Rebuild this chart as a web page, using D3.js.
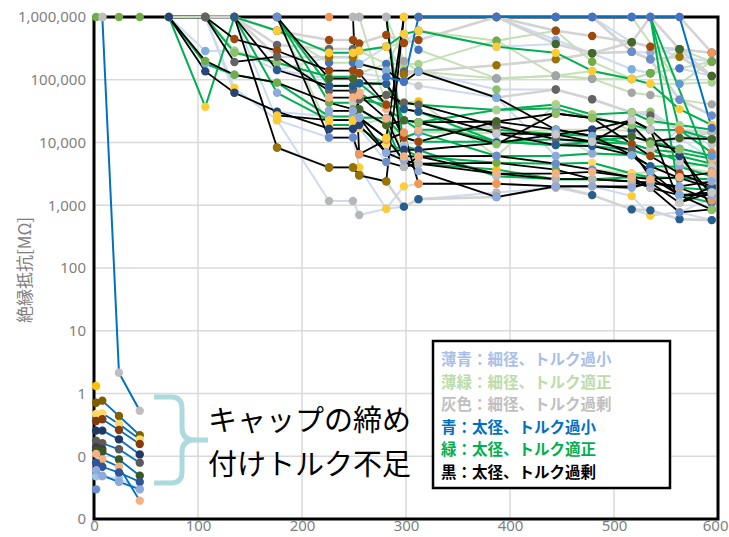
<!DOCTYPE html>
<html>
<head>
<meta charset="utf-8">
<script src="https://cdn.jsdelivr.net/npm/d3@7"></script>
<style>
  html, body { margin: 0; padding: 0; background: #fff; }
  svg { display: block; }
</style>
</head>
<body>
<svg id="chart" width="729" height="537"></svg>
<script>
// ---------------- data ----------------
const xTicks = [0, 100, 200, 300, 400, 500, 600];
const yTicks = [0.01, 0.1, 1, 10, 100, 1000, 10000, 100000, 1000000];
const yTickLabels = ["0", "0", "1", "10", "100", "1,000", "10,000", "100,000", "1,000,000"];
const yTitle = "絶縁抵抗[MΩ]";
const noteLines = ["キャップの締め", "付けトルク不足"];
const legendLabels = [
  "薄青：細径、トルク過小",
  "薄緑：細径、トルク適正",
  "灰色：細径、トルク過剰",
  "青：太径、トルク過小",
  "緑：太径、トルク適正",
  "黒：太径、トルク過剰"
];

// 薄青 (thin, under-torqued)
const lightBlueRuns = [
  [[135,1e6],[176,2.27e4],[226,1.17e3],[249,1.17e3],[255,7.0e2],[281,8.8e2],[298,9.5e2],[312,1.25e3],[387,1.6e3],[444,1.9e3],[479,1.45e3],[517,8.6e2],[535,6.9e2],[563,7.7e2],[594,5.8e2]],
  [[107,1e6],[135,7.4e4],[176,2.27e4],[226,1.2e4],[249,1.2e4],[255,4.0e3],[281,8.8e2],[298,2.0e3],[312,2.2e3],[387,2.2e3],[444,2.0e3],[479,2.0e3],[517,1.4e3],[535,6.9e2],[563,7.7e2],[594,1.3e3]],
  [[72,1e6],[107,2.87e5],[135,2.9e5],[176,1.43e5],[226,2.28e5],[249,2.28e5],[255,1.79e5],[281,3.36e5],[298,3.85e5],[312,6.05e5],[387,3.36e5],[444,3.72e5],[479,2.64e5],[517,1.47e5],[535,1.27e5],[563,1.52e5],[594,1.15e5]],
  [[176,1e6],[226,8.0e4],[249,8.0e4],[255,6.2e4],[281,1.1e5],[298,1.35e5],[312,1.35e5],[387,7.0e4],[444,7.0e4],[479,4.9e4],[517,3.0e4],[535,3.1e4],[563,1.58e4],[594,1.13e4]],
  [[387,1e6],[444,4.3e5],[479,2.64e5],[517,2.8e5],[535,2.7e5],[563,3.06e5],[594,2.7e5]],
  [[479,1e6],[517,3.95e5],[535,3.36e5],[563,2.33e5],[594,1.94e5]],
  [[135,1e6],[176,1.43e5],[226,1.04e5],[249,1.04e5],[255,1.27e5],[281,1.1e5],[298,9.3e4],[312,8.0e4],[387,5.2e4],[444,6.1e3],[479,6.7e3],[517,6.3e3],[535,7.7e3],[563,1.58e4],[594,9.1e3]],
  [[107,1e6],[135,6.2e4],[176,3.1e4],[226,2.6e4],[249,2.6e4],[255,1.7e4],[281,4.9e3],[298,9.3e3],[312,1.03e4],[387,9.8e3],[444,1.35e4],[479,6.7e3],[517,6.3e3],[535,7.7e3],[563,1.18e4],[594,5.5e3]],
  [[2,0.048],[8,0.048],[24,0.0445],[44,0.03]]
];

// 薄緑 (thin, proper torque)
const lightGreenRuns = [
  [[72,1e6],[107,1e6],[135,2.9e5],[176,1.87e5],[226,1.12e5],[249,1.12e5],[255,2.9e5],[281,1.79e5],[298,1.8e5],[312,1.79e5],[387,4.2e5],[444,1.16e5],[479,1.38e5],[517,1.03e5],[535,8.6e4],[563,8.6e4],[594,9.0e4]],
  [[135,1e6],[176,6.05e5],[226,1.87e5],[249,1.87e5],[255,1.27e5],[281,1.79e5],[298,5.36e5],[312,3.0e5],[387,1.05e5],[444,1.16e5],[479,1.04e5],[517,1.03e5],[535,1.27e5],[563,1.52e5],[594,1.94e5]],
  [[255,1e6],[281,4.0e4],[298,5.2e3],[312,6.0e3],[387,6.1e3],[444,4.6e3],[479,3.7e3],[517,3.2e3],[535,3.4e3],[563,4.1e3],[594,4.6e3]],
  [[281,1e6],[298,2.0e5],[312,1.35e5],[387,1.05e5],[444,1.16e5],[479,1.04e5],[517,6.2e4],[535,5.7e4],[563,4.8e4],[594,4.05e4]],
  [[226,3.2e4],[249,3.2e4],[255,4.9e4],[281,5.7e4],[298,4.3e4],[312,4.5e4],[387,6.1e3],[444,4.05e4],[479,2.8e4],[517,1.54e4],[535,1.6e4],[563,4.1e3],[594,3.3e3]],
  [[517,1e6],[563,8.6e4],[594,2.0e5]],
  [[312,6.05e5],[387,4.2e5],[444,6.05e5],[479,1.94e5],[517,1.03e5],[535,1.27e5],[563,3.06e5],[594,1.94e5]],
  [[176,1e6],[226,1.66e4],[249,1.66e4],[255,1.9e4],[281,2.45e4],[298,1.2e4],[312,1.45e4],[387,1.4e4],[444,1.6e4],[479,1.6e4],[517,1.54e4],[535,1.03e4],[563,1.18e4],[594,1.13e4]]
];

// 灰色 (thin, over-torqued)
const grayRuns = [
  [[107,1e6],[135,1e6],[176,6.05e5],[226,4.3e5],[249,4.3e5],[255,3.8e5],[281,5.17e5],[298,3.85e5],[312,4.3e5],[387,1e6],[444,6.05e5],[479,4.97e5],[517,3.95e5],[535,3.36e5],[563,3.06e5],[594,2.7e5]],
  [[107,1e6],[135,1e6],[176,3.58e5],[226,3.09e5],[249,3.09e5],[255,2.9e5],[281,3.36e5],[298,1.35e5],[312,1.35e5],[387,5.2e4],[444,7.0e4],[479,4.9e4],[517,3.0e4],[535,2.7e4],[563,1.58e4],[594,1.45e4]],
  [[135,1e6],[176,2.33e5],[226,2.28e5],[249,2.28e5],[255,1.79e5],[281,1.4e5],[298,1.2e5],[312,1.35e5],[387,1.7e5],[444,2.11e5],[479,2.64e5],[517,2.8e5],[535,2.11e5],[563,2.33e5],[594,1.15e5]],
  [[176,8.3e3],[226,4.0e3],[249,4.0e3],[255,3.0e3],[281,2.4e3],[298,9.5e2],[312,1.25e3],[387,1.35e3],[444,2.0e3],[479,1.45e3],[517,8.6e2],[535,8.3e2],[563,6.0e2],[594,5.8e2]],
  [[387,1e6],[444,3.72e5],[479,2.64e5],[517,3.95e5],[535,1e6],[563,3.06e5],[594,1.15e5]],
  [[479,1e6],[517,2.8e5],[535,2.11e5],[563,4.8e4],[594,2.7e4]],
  [[563,1e6],[594,2.7e5]],
  [[298,1.2e4],[312,1.45e4],[387,1.83e4],[444,1.13e4],[479,1.03e4],[517,1.25e4],[535,1.03e4],[563,1.18e4],[594,1.45e4]]
];

// 緑 (thick, proper torque)
const greenRuns = [
  [[72,1e6],[107,3.7e4],[135,1e6],[176,6.05e5],[226,2.7e5],[249,2.7e5],[255,2.9e5],[281,3.36e5],[298,5.36e5],[312,6.05e5],[387,3.36e5],[444,2.7e5],[479,1.38e5],[517,1.03e5],[535,8.6e4],[563,3.4e4],[594,1.9e4]],
  [[72,1e6],[107,1.8e5],[135,1.2e5],[176,9.0e4],[226,2.6e4],[249,2.6e4],[255,3.4e4],[281,1.9e4],[298,2.27e4],[312,2.1e4],[387,3.3e4],[444,3.5e4],[479,2.45e4],[517,1.9e4],[535,1.6e4],[563,1.58e4],[594,1.13e4]],
  [[107,1e6],[135,2.7e5],[176,1.87e5],[226,1.12e5],[249,1.12e5],[255,8.8e4],[281,4.0e4],[298,3.4e4],[312,3.1e4],[387,1.03e4],[444,9.1e3],[479,8.8e3],[517,7.6e3],[535,6.1e3],[563,6.1e3],[594,4.6e3]],
  [[135,1e6],[176,6.2e4],[226,2.28e4],[249,2.28e4],[255,2.5e4],[281,2.45e4],[298,1.2e4],[312,1.45e4],[387,6.1e3],[444,6.1e3],[479,6.7e3],[517,6.3e3],[535,4.2e3],[563,4.1e3],[594,2.9e3]],
  [[176,1e6],[226,8.0e4],[249,8.0e4],[255,6.2e4],[281,3.4e4],[298,2.27e4],[312,1.6e4],[387,1.6e4],[444,1.35e4],[479,1.27e4],[517,9.5e3],[535,7.7e3],[563,6.9e3],[594,5.5e3]],
  [[176,1e6],[226,4.3e4],[249,4.3e4],[255,4.9e4],[281,4.0e4],[298,1.2e4],[312,1.03e4],[387,1.03e4],[444,1.13e4],[479,1.03e4],[517,9.5e3],[535,7.7e3],[563,5.0e3],[594,4.1e3]],
  [[226,1.9e4],[249,1.9e4],[255,1.7e4],[281,9.3e3],[298,7.7e3],[312,6.0e3],[387,4.75e3],[444,4.6e3],[479,4.75e3],[517,3.2e3],[535,2.8e3],[563,2.7e3],[594,2.6e3]],
  [[255,1e6],[281,1e6],[298,8.8e3],[312,7.6e3],[387,2.9e3],[444,2.6e3],[479,2.6e3],[517,2.8e3],[535,2.8e3],[563,2.7e3],[594,2.6e3]],
  [[298,4.3e4],[312,4.0e4],[387,3.3e4],[444,4.05e4],[479,2.8e4],[517,3.0e4],[535,2.2e4],[563,1.9e4],[594,1.6e4]],
  [[444,1e6],[479,1e6],[517,1e6],[535,1e6],[563,1.45e3],[594,1.1e3]],
  [[535,1e6],[563,1.58e4],[594,6.9e3]],
  [[517,1e6],[535,1e6],[594,3.5e3]],
  [[281,1.9e4],[298,4.1e3],[312,4.6e3],[387,3.7e3],[444,2.6e3],[479,2.6e3],[517,2.4e3],[535,2.3e3],[563,1.9e3],[594,1.75e3]],
  [[255,8.8e4],[281,8.6e4],[298,2.27e4],[312,2.1e4],[387,1.03e4],[444,9.1e3],[479,1.03e4],[517,1.25e4],[535,1.03e4],[563,8.0e3],[594,6.1e3]]
];

// 黒 (thick, over-torqued)
const blackRuns = [
  [[2,1e6],[8,1e6],[24,1e6],[44,1e6],[72,1e6],[107,2.0e5],[135,1.2e5],[176,9.0e4],[226,4.3e4],[249,3.4e4],[255,2.5e4],[281,1.18e4],[298,5.2e3],[312,4.6e3],[387,4.75e3],[444,3.7e3],[479,2.6e3],[517,2.4e3],[535,2.3e3],[563,1.1e3],[594,2.0e3]],
  [[72,1e6],[107,1.36e5],[135,6.2e4],[176,3.1e4],[226,1.66e4],[249,1.66e4],[255,1.9e4],[281,6.9e3],[298,7.7e3],[312,7.6e3],[387,9.8e3],[444,1.35e4],[479,1.6e4],[517,2.27e4],[535,1.6e4],[563,6.1e3],[594,1.45e3]],
  [[107,1e6],[135,4.46e5],[176,2.9e5],[226,1.4e5],[249,1.4e5],[255,1.27e5],[281,4.0e4],[298,1.2e4],[312,1.03e4],[387,2.16e4],[444,2.9e4],[479,2.45e4],[517,9.5e3],[535,6.1e3],[563,3.2e3],[594,2.0e3]],
  [[107,1e6],[135,1.92e5],[176,2.33e5],[226,6.7e4],[249,6.7e4],[255,4.9e4],[281,5.7e4],[298,4.3e4],[312,4.0e4],[387,1.83e4],[444,1.13e4],[479,1.03e4],[517,7.6e3],[535,2.8e3],[563,1.45e3],[594,8.5e2]],
  [[135,1e6],[176,8.3e3],[226,4.0e3],[249,4.0e3],[255,3.0e3],[281,2.4e3],[298,1e6],[312,1e6],[387,1e6],[444,1e6]],
  [[135,1e6],[176,1.43e5],[226,8.0e4],[249,8.0e4],[255,8.8e4],[281,8.6e4],[298,3.4e4],[312,3.1e4],[387,1.4e4],[444,9.1e3],[479,8.8e3],[517,6.3e3],[535,4.2e3],[563,2.7e3],[594,1.9e3]],
  [[176,1e6],[226,1.04e5],[249,1.04e5],[255,3.4e4],[281,1.9e4],[298,2.27e4],[312,2.1e4],[387,2.16e4],[444,1.6e4],[479,1.27e4],[517,1.25e4],[535,1.03e4],[563,1.18e4],[594,1.13e4]],
  [[176,1e6],[226,1.2e4],[249,1.2e4],[255,6.5e3],[281,4.9e3],[298,4.1e3],[312,6.0e3],[387,6.1e3],[444,4.6e3],[479,3.7e3],[517,2.8e3],[535,1.9e3],[563,7.7e2],[594,8.6e2]],
  [[226,1e6],[249,1e6],[255,6.5e3],[281,1.1e4],[298,1.44e4],[312,2.2e3],[387,2.2e3],[444,2.0e3],[479,2.0e3],[517,2.0e3],[535,2.3e3],[563,1.9e3],[594,1.2e3]],
  [[249,1e6],[255,1e6],[281,1e6],[298,4.1e3],[312,4.6e3],[387,3.2e3],[444,2.6e3],[479,2.6e3],[517,2.4e3],[535,1.9e3],[563,1.45e3],[594,1.6e3]],
  [[176,2.7e4],[226,2.27e4],[249,2.27e4],[255,2.5e4],[281,1.18e4],[298,1e6]],
  [[255,1.79e5],[281,1.4e5],[298,9.3e4],[312,1.35e5],[387,5.2e4],[444,1.6e4],[479,1.27e4],[517,6.3e3],[535,3.4e3],[563,1.45e3],[594,1.45e3]],
  [[312,2.1e4],[387,9.4e3],[444,2.9e4],[479,2.45e4],[517,1.9e4],[535,9.5e3],[563,7.7e3],[594,8.5e2]],
  [[226,3.2e4],[249,3.2e4],[255,2.5e4],[281,6.9e3],[298,5.2e3],[312,3.5e3],[387,1.35e3],[444,2.0e3],[479,2.0e3],[517,1.9e3],[535,2.3e3],[563,2.0e3],[594,2.4e3]],
  [[226,5.2e4],[249,5.2e4],[255,5.7e4],[281,2.4e4],[298,6.0e3],[312,6.0e3],[387,3.2e3],[444,3.2e3],[479,3.4e3],[517,2.8e3],[535,2.6e3],[563,2.8e3],[594,3.3e3]],
  [[387,1.4e4],[444,1.35e4],[479,1.03e4],[517,2.27e4],[535,1.6e4],[563,1.1e3],[594,1.6e3]]
];

// 青 (thick, under-torqued)
const blueRuns = [
  [[8,1e6],[24,2.14],[44,0.53]],
  [[281,1.1e5],[298,9.3e4],[312,1e6],[387,1e6],[444,1e6],[479,1e6],[517,1e6],[535,1e6],[563,1e6],[594,1.7e4]]
];

// 青: caps with insufficient tightening torque
const capRuns = [
  [[2,1.32]],
  [[2,0.714],[8,0.769],[24,0.438],[44,0.216]],
  [[2,0.471],[8,0.483],[24,0.327],[44,0.186]],
  [[2,0.365],[8,0.388],[24,0.262],[44,0.157]],
  [[2,0.256],[8,0.256],[24,0.186],[44,0.107]],
  [[2,0.177],[8,0.161],[24,0.129],[44,0.079]],
  [[2,0.14],[8,0.13]],
  [[2,0.123],[8,0.118],[24,0.089],[44,0.049]],
  [[2,0.109],[8,0.089],[24,0.068],[44,0.0196]],
  [[2,0.079],[8,0.068],[24,0.055],[44,0.039]],
  [[2,0.060],[8,0.049],[24,0.039],[44,0.0297]],
  [[2,0.0297]]
];

// ---------------- styles ----------------
const markerPalette = ["#4472C4","#ED7D31","#A5A5A5","#FFC000","#5B9BD5","#70AD47",
  "#264478","#9E480E","#636363","#997300","#255E91","#43682B",
  "#698ED0","#F1975A","#B7B7B7","#FFCD33","#7CAFDD","#8CC168",
  "#8FAADC","#F4B183","#C9C9C9","#FFD966","#9DC3E6","#A9D18E"];
const paletteOffset = 14;
const capPalette = ["#FFC000","#7F6000","#FFD966","#843C0C","#203864","#595959","#404040",
  "#385723","#F4B183","#2F5597","#8FAADC","#698ED0"];
const bluePalette = ["#BFBFBF","#4472C4"];

const groups = [
  { runs: lightBlueRuns,  stroke: "#cddaf0", width: 2 },
  { runs: lightGreenRuns, stroke: "#c5e0b4", width: 2 },
  { runs: grayRuns,       stroke: "#d3d3d3", width: 2.6 },
  { runs: greenRuns,      stroke: "#00b050", width: 2 },
  { runs: blackRuns,      stroke: "#000000", width: 1.8 },
  { runs: blueRuns,       stroke: "#0070c0", width: 2, palette: bluePalette },
  { runs: capRuns,        stroke: "#0070c0", width: 1.8, palette: capPalette }
];

const legendColors = ["#a9bfe8", "#bcdcab", "#bfbfbf", "#0070c0", "#00b050", "#000000"];

// ---------------- chart ----------------
const svg = d3.select("#chart");
const plotL = 94, plotR = 718, plotT = 17, plotB = 519;
const svgW = 729;

const x = d3.scaleLinear().domain([0, 600]).range([plotL, plotR]);
const y = d3.scaleLog().domain([0.01, 1e6]).range([plotB, plotT]);

// grid
const grid = svg.append("g").attr("stroke", "#d9d9d9").attr("stroke-width", 1.5);
grid.selectAll("line.h").data(yTicks).join("line")
  .attr("x1", plotL).attr("x2", plotR)
  .attr("y1", d => y(d)).attr("y2", d => y(d));
grid.selectAll("line.v").data(xTicks).join("line")
  .attr("x1", d => x(d)).attr("x2", d => x(d))
  .attr("y1", plotT).attr("y2", plotB);

// tick labels
const yAxis = d3.axisLeft(y).tickValues(yTicks)
  .tickFormat((d, i) => yTickLabels[i]).tickSize(0).tickPadding(8);
svg.append("g").attr("transform", `translate(${plotL},0)`).call(yAxis)
  .call(g => g.select(".domain").remove())
  .call(g => g.selectAll("text").attr("fill", "#7f7f7f")
    .style("font-family", "'Noto Sans', sans-serif").style("font-size", "15px"));

const xAxis = d3.axisBottom(x).tickValues(xTicks).tickFormat(d3.format("d"))
  .tickSize(0).tickPadding(3);
svg.append("g").attr("transform", `translate(0,${plotB})`).call(xAxis)
  .call(g => g.select(".domain").remove())
  .call(g => g.selectAll("text").attr("fill", "#7f7f7f").attr("dy", "0.62em")
    .style("font-family", "'Noto Sans', sans-serif").style("font-size", "15px"))
  // keep the last label inside the page edge
  .call(g => g.selectAll(".tick").filter(d => d === xTicks[xTicks.length - 1]).select("text")
    .attr("text-anchor", "end").attr("x", svgW - 1 - x(xTicks[xTicks.length - 1])));

// y title
svg.append("text")
  .attr("transform", "translate(23,270) rotate(-90)")
  .attr("text-anchor", "middle").attr("dominant-baseline", "central")
  .attr("fill", "#7f7f7f")
  .style("font-family", "'Noto Sans CJK JP', sans-serif").style("font-size", "17px")
  .text(yTitle);

// frame
svg.append("rect").attr("x", plotL).attr("y", plotT)
  .attr("width", plotR - plotL).attr("height", plotB - plotT)
  .attr("fill", "none").attr("stroke", "#000").attr("stroke-width", 3);

// series
const line = d3.line().x(d => x(d[0])).y(d => y(d[1]));
const linesG = svg.append("g").attr("fill", "none")
  .attr("stroke-linejoin", "round").attr("stroke-linecap", "round");
const markersG = svg.append("g");
let k = paletteOffset;
groups.forEach(gr => {
  gr.runs.forEach((run, i) => {
    linesG.append("path").datum(run)
      .attr("d", line).attr("stroke", gr.stroke).attr("stroke-width", gr.width);
    const col = gr.palette ? gr.palette[i % gr.palette.length] : markerPalette[(k++) % markerPalette.length];
    markersG.append("g").selectAll("circle").data(run).join("circle")
      .attr("cx", d => x(d[0])).attr("cy", d => y(d[1])).attr("r", 4.2)
      .attr("fill", col);
  });
});

// brace + note
svg.append("path")
  .attr("d", "M154,397 L171,397 Q182,397 182,408 L182,428 Q182,440 195,440 L208,440 M195,440 Q182,440 182,452 L182,472 Q182,483 171,483 L154,483")
  .attr("fill", "none").attr("stroke", "#acdadd").attr("stroke-width", 5);
svg.append("g").selectAll("text").data(noteLines).join("text")
  .attr("x", 208).attr("y", (d, i) => 431 + i * 44)
  .attr("fill", "#000")
  .style("font-family", "'Noto Sans CJK JP', sans-serif").style("font-size", "29px")
  .text(d => d);

// legend
const lg = svg.append("g");
lg.append("rect").attr("x", 433).attr("y", 341).attr("width", 237).attr("height", 147)
  .attr("fill", "#fff").attr("stroke", "#000").attr("stroke-width", 2.5);
lg.selectAll("text").data(legendLabels).join("text")
  .attr("x", 441).attr("y", (d, i) => 365 + i * 22.6)
  .attr("fill", (d, i) => legendColors[i])
  .style("font-family", "'Noto Sans CJK JP', sans-serif").style("font-size", "15.5px")
  .style("font-weight", "bold")
  .text(d => d);
</script>
</body>
</html>
